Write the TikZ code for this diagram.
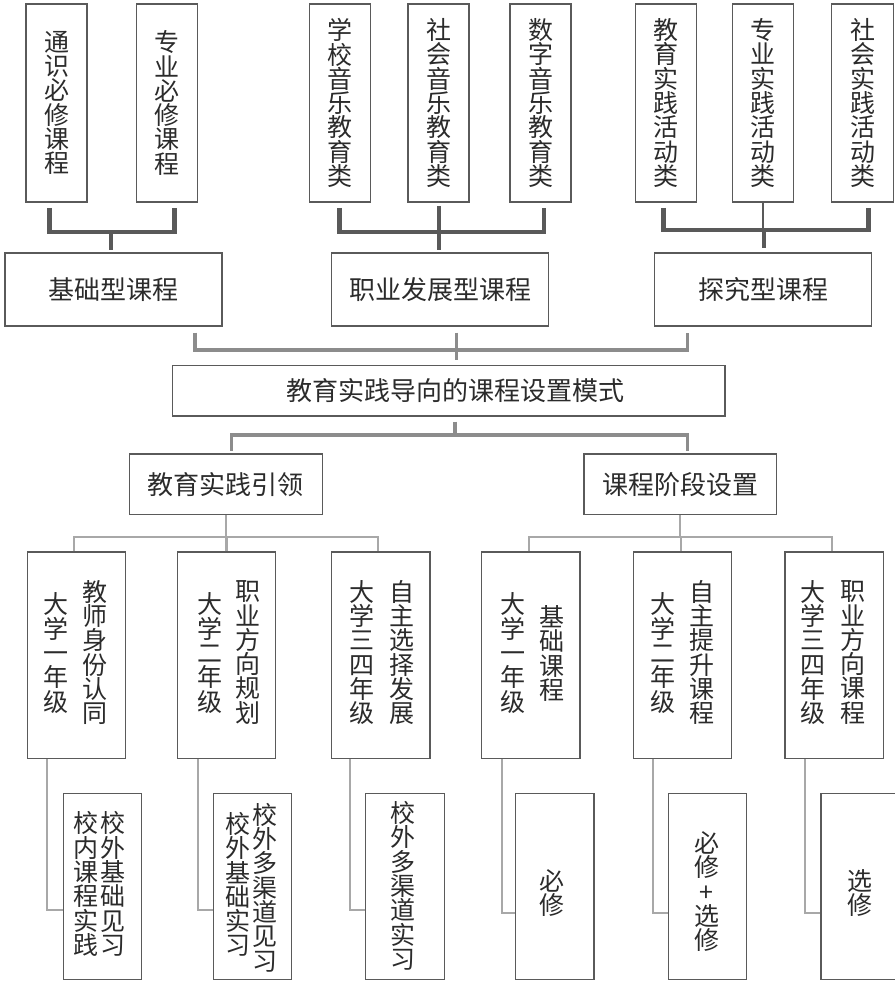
\documentclass[tikz,border=0pt]{standalone}
\usepackage{fontspec}
\setmainfont{Noto Sans CJK SC}
\definecolor{boxc}{HTML}{5A5A5A}
\definecolor{txt}{HTML}{2B2B2B}
\definecolor{barA}{HTML}{595959}
\definecolor{barB}{HTML}{8C8C8C}
\definecolor{barC}{HTML}{A8A8A8}
\begin{document}
\begin{tikzpicture}[x=1pt,y=-1pt,
  box/.style={draw=boxc, line width=1.2pt, inner sep=0pt, text=txt},
  vtext/.style={align=center, text=txt, inner sep=0pt, font=\fontsize{25}{24.3}\selectfont},
  htext/.style={text=txt, font=\fontsize{26}{28}\selectfont},
  topbox/.style={box, vtext, minimum width=61pt, minimum height=198pt},
  midbox/.style={box, htext, minimum width=217pt, minimum height=73pt},
  yearbox/.style={box, minimum width=98.3pt, minimum height=206.3pt},
  lowbox/.style={box, minimum width=78.4pt, minimum height=186pt},
  darkbar/.style={draw=barA, line width=4.5pt},
  thinstub/.style={draw=barA, line width=1.8pt},
  midbar/.style={draw=barB, line width=3.3pt},
  lightbar/.style={draw=barC, line width=2.2pt}]
\useasboundingbox (0,0) rectangle (894,984);

% ---- top row of vertical boxes
\node[topbox] (t1) at (56.5,103) {通\\识\\必\\修\\课\\程};
\node[topbox] (t2) at (167,103) {专\\业\\必\\修\\课\\程};
\node[topbox] (t3) at (339.8,103) {学\\校\\音\\乐\\教\\育\\类};
\node[topbox] (t4) at (438.5,103) {社\\会\\音\\乐\\教\\育\\类};
\node[topbox] (t5) at (540.5,103) {数\\字\\音\\乐\\教\\育\\类};
\node[topbox] (t6) at (666.3,103) {教\\育\\实\\践\\活\\动\\类};
\node[topbox] (t7) at (763.2,103) {专\\业\\实\\践\\活\\动\\类};
\node[topbox, minimum width=61.6pt] (t8) at (862.5,103) {社\\会\\实\\践\\活\\动\\类};

% ---- second row
\node[midbox] (b1) at (113.5,289.5) {基础型课程};
\node[midbox] (b2) at (440,289.5) {职业发展型课程};
\node[midbox] (b3) at (763,289.5) {探究型课程};

% ---- top brackets
\coordinate (g1l) at (49.3,208);
\coordinate (g1r) at (174.3,208);
\draw[darkbar] (g1l) -- (g1l |- 0,232) -- (g1r |- 0,232) -- (g1r);
\draw[darkbar] (111,232) -- (111 ,249.5);
\coordinate (g2l) at (339.3,208);
\coordinate (g2r) at (544,208);
\draw[darkbar] (g2l) -- (g2l |- 0,232) -- (g2r |- 0,232) -- (g2r);
\draw[darkbar] (439,206) -- (439,250);
\coordinate (g3l) at (663.3,208);
\coordinate (g3r) at (868.3,208);
\draw[darkbar] (g3l) -- (g3l |- 0,230) -- (g3r |- 0,230) -- (g3r);
\draw[thinstub] (t7.south) -- (t7.south |- 0,230);
\draw[darkbar, line width=3.3pt] (764,230) -- (764,248);

% ---- main box
\node[box, minimum width=552.7pt, minimum height=50.3pt] (main) at (448.65,390.85) {};
\node[htext, inner sep=0pt] (mainlbl) at (455,391) {教育实践导向的课程设置模式};

% ---- upper middle bracket
\coordinate (m1) at (195,332.7);
\coordinate (m2) at (456.7,332.7);
\coordinate (m3) at (687.7,332.7);
\draw[midbar] (m1) -- (m1 |- 0,350) -- (m3 |- 0,350) -- (m3);
\draw[midbar] (m2) -- (m2 |- 0,360);

% ---- row 4
\node[box, htext, minimum width=193pt, minimum height=60.3pt] (l) at (225.8,484.15) {教育实践引领};
\node[box, htext, minimum width=192.7pt, minimum height=60.3pt] (r) at (680.35,484.15) {课程阶段设置};

% ---- lower middle bracket
\coordinate (n0) at (455,421.7);
\coordinate (n1) at (231.7,450.5);
\coordinate (n2) at (687.7,450.5);
\draw[midbar] (n0) -- (n0 |- 0,435);
\draw[midbar] (n1) -- (n1 |- 0,435) -- (n2 |- 0,435) -- (n2);

% ---- row 5 year boxes
\node[yearbox] (A1) at (76.5,655.15) {};
\node[yearbox] (A2) at (226.5,655.15) {};
\node[yearbox] (A3) at (380.85,655.15) {};
\node[yearbox] (C1) at (530.85,655.15) {};
\node[yearbox] (C2) at (682.5,655.15) {};
\node[yearbox] (C3) at (834.15,655.15) {};

\node[vtext] (A1a) at (56,653) {大\\学\\一\\年\\级};
\node[vtext] (A1b) at (95,652.5) {教\\师\\身\\份\\认\\同};
\node[vtext] (A2a) at (210,653) {大\\学\\二\\年\\级};
\node[vtext] (A2b) at (248.3,652.5) {职\\业\\方\\向\\规\\划};
\node[vtext] (A3a) at (361.7,652.5) {大\\学\\三\\四\\年\\级};
\node[vtext] (A3b) at (401.7,652.5) {自\\主\\选\\择\\发\\展};
\node[vtext] (C1a) at (513.3,653) {大\\学\\一\\年\\级};
\node[vtext] (C1b) at (551.7,653.5) {基\\础\\课\\程};
\node[vtext] (C2a) at (663.3,653) {大\\学\\二\\年\\级};
\node[vtext] (C2b) at (702.3,652.5) {自\\主\\提\\升\\课\\程};
\node[vtext] (C3a) at (813.3,652.5) {大\\学\\三\\四\\年\\级};
\node[vtext] (C3b) at (853.3,652.5) {职\\业\\方\\向\\课\\程};

% ---- connectors row4 -> row5
\draw[lightbar] (l.south) -- (l.south |- 0,537);
\draw[lightbar] ([xshift=-2.5pt]A1.north) -- ([xshift=-2.5pt]A1.north |- 0,537) -- ([xshift=-2.5pt]A3.north |- 0,537) -- ([xshift=-2.5pt]A3.north);
\draw[lightbar] (A2.north) -- (A2.north |- 0,537);
\draw[lightbar] (r.south) -- (r.south |- 0,537);
\draw[lightbar] ([xshift=-2pt]C1.north) -- ([xshift=-2pt]C1.north |- 0,537) -- ([xshift=-2pt]C3.north |- 0,537) -- ([xshift=-2pt]C3.north);
\draw[lightbar] ([xshift=-1.5pt]C2.north) -- ([xshift=-1.5pt]C2.north |- 0,537);

% ---- row 6 boxes
\node[lowbox] (B1) at (102.5,886.3) {};
\node[lowbox] (B2) at (252.5,886.3) {};
\node[lowbox] (B3) at (405,886.3) {};
\node[lowbox] (D1) at (554.85,886.3) {};
\node[lowbox] (D2) at (707.5,886.3) {};
\node[lowbox] (D3) at (860.2,886.3) {};

\node[vtext] (B1a) at (86.2,884) {校\\内\\课\\程\\实\\践};
\node[vtext] (B1b) at (113.3,884) {校\\外\\基\\础\\见\\习};
\node[vtext] (B2a) at (237.7,884.5) {校\\外\\基\\础\\实\\习};
\node[vtext] (B2b) at (265,887.5) {校\\外\\多\\渠\\道\\见\\习};
\node[vtext] (B3a) at (402.7,885.8) {校\\外\\多\\渠\\道\\实\\习};
\node[vtext] (D1a) at (551.7,893) {必\\修};
\node[vtext] (D2a) at (706.7,891.7) {必\\修\\+\\选\\修};
\node[vtext] (D3a) at (860,893) {选\\修};

% ---- elbow connectors row5 -> row6
\draw[lightbar] ([xshift=-29.2pt]A1.south) |- ([yshift=-23.7pt]B1.west);
\draw[lightbar] ([xshift=-28.2pt]A2.south) |- ([yshift=-23.7pt]B2.west);
\draw[lightbar] ([xshift=-30.8pt]A3.south) |- ([yshift=-23.7pt]B3.west);
\draw[lightbar] ([xshift=-29.2pt]C1.south) |- ([yshift=-26.4pt]D1.west);
\draw[lightbar] ([xshift=-29.2pt]C2.south) |- ([yshift=-26.4pt]D2.west);
\draw[lightbar] ([xshift=-29.2pt]C3.south) |- ([yshift=-26.4pt]D3.west);
\end{tikzpicture}
\end{document}
